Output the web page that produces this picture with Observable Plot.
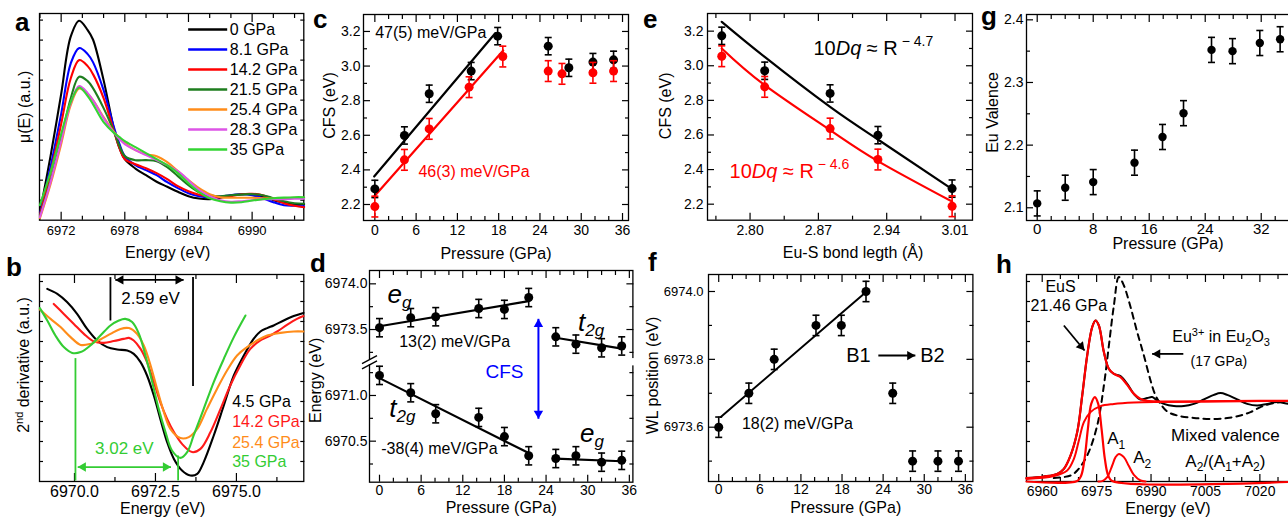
<!DOCTYPE html>
<html><head><meta charset="utf-8">
<script src="https://cdn.jsdelivr.net/npm/d3@7"></script>
<script src="https://cdn.jsdelivr.net/npm/@observablehq/plot@0.6"></script>
<style>
html,body{margin:0;padding:0;background:#fff;}
#fig{position:relative;width:1288px;height:518px;overflow:hidden;font-family:"Liberation Sans",Arial,Helvetica,sans-serif;background:#fff;}
.lbl{position:absolute;font-weight:bold;font-size:26px;line-height:26px;color:#000;}
</style></head><body><div id="fig"></div>
<script>
const FONT = '"Liberation Sans", Arial, Helvetica, sans-serif';
const RED = "#ff0000", BLUE = "#0000ff", LGREEN = "#33cc33";

// ================= DATA =================
// --- a: XANES mu(E) ---
const aEnergy = [6970, 6971, 6972, 6972.9, 6973.7, 6974.5, 6975, 6976, 6977, 6977.5, 6978, 6979, 6980, 6981, 6982, 6983, 6984, 6985, 6986, 6987, 6988, 6989, 6990, 6991, 6992, 6993, 6994, 6994.9];
const aMu0   = [0.4, 3.2, 6.3, 9.17, 9.97, 9.5, 9.03, 7.0, 4.5, 3.6, 3.05, 2.58, 2.25, 1.92, 1.67, 1.42, 1.2, 1.08, 1.05, 1.12, 1.25, 1.3, 1.3, 1.18, 1.0, 0.88, 0.8, 0.8];
const aMu8   = [0.3, 2.67, 5.3, 7.83, 8.6, 8.3, 7.9, 6.5, 4.6, 3.8, 3.2, 2.75, 2.5, 2.25, 1.9, 1.6, 1.35, 1.2, 1.15, 1.18, 1.25, 1.3, 1.25, 1.1, 0.9, 0.75, 0.72, 0.7];
const aMu14  = [0.25, 2.37, 4.8, 7.08, 8.0, 7.7, 7.3, 6.1, 4.4, 3.6, 3.05, 2.8, 2.6, 2.35, 2.05, 1.7, 1.45, 1.27, 1.18, 1.15, 1.2, 1.3, 1.32, 1.25, 1.05, 0.85, 0.72, 0.65];
const aMu21  = [0.2, 1.97, 4.05, 6.08, 7.17, 6.95, 6.6, 5.6, 4.4, 3.7, 3.2, 3.0, 3.0, 2.95, 2.65, 2.2, 1.75, 1.4, 1.25, 1.2, 1.25, 1.28, 1.3, 1.25, 1.1, 0.95, 0.85, 0.82];
const aMu25  = [0.1, 1.8, 3.8, 5.75, 6.58, 6.3, 6.0, 5.15, 4.4, 4.1, 3.85, 3.5, 3.3, 3.2, 2.9, 2.45, 2.0, 1.6, 1.3, 1.15, 1.12, 1.12, 1.12, 1.1, 1.08, 1.1, 1.12, 1.12];
const aMu28  = [0.15, 1.9, 3.95, 5.85, 6.7, 6.35, 6.0, 5.1, 4.35, 4.05, 3.8, 3.5, 3.25, 3.0, 2.75, 2.45, 2.0, 1.5, 1.2, 1.0, 0.92, 0.95, 1.0, 1.05, 1.05, 1.05, 1.07, 1.08];
const aMu35  = [0.75, 2.4, 4.3, 5.9, 6.63, 6.2, 5.8, 4.9, 4.35, 4.15, 3.95, 3.65, 3.35, 3.05, 2.75, 2.35, 1.85, 1.4, 1.1, 0.95, 0.88, 0.9, 0.98, 1.05, 1.1, 1.13, 1.15, 1.15];
const aLabels = ["0 GPa", "8.1 GPa", "14.2 GPa", "21.5 GPa", "25.4 GPa", "28.3 GPa", "35 GPa"];
const aXTicks = [6972, 6978, 6984, 6990];
const aXMinor = [6970, 6974, 6976, 6980, 6982, 6986, 6988, 6992, 6994];
const aYMinor = [1, 2, 3, 4, 5, 6, 7, 8, 9, 10];

// --- b: 2nd derivative ---
const bE45  = [6969.16, 6969.47, 6969.77, 6970.08, 6970.39, 6970.70, 6971.01, 6971.32, 6971.63, 6971.83, 6972.04, 6972.24, 6972.45, 6972.65, 6972.86, 6973.07, 6973.32, 6973.58, 6973.79, 6973.99, 6974.30, 6974.61, 6974.92, 6975.23, 6975.53, 6975.74, 6975.95, 6976.15, 6976.46, 6976.77, 6977.07];
const bD45  = [9.63, 9.38, 8.97, 8.38, 7.63, 7.05, 6.72, 6.6, 6.55, 6.38, 5.97, 5.3, 4.3, 3.13, 1.97, 1.13, 0.55, 0.3, 0.38, 0.97, 2.3, 3.8, 5.3, 6.3, 7.13, 7.5, 7.67, 7.8, 8.05, 8.27, 8.43];
const bE142 = [6969.36, 6969.67, 6969.98, 6970.29, 6970.60, 6970.91, 6971.21, 6971.52, 6971.68, 6971.83, 6972.04, 6972.24, 6972.45, 6972.65, 6972.86, 6973.07, 6973.32, 6973.63, 6973.89, 6974.20, 6974.51, 6974.81, 6975.12, 6975.43, 6975.74, 6975.95, 6976.26, 6976.56, 6976.87, 6977.07];
const bD142 = [8.88, 8.38, 7.88, 7.38, 7.0, 6.93, 7.02, 7.13, 7.18, 7.05, 6.63, 5.97, 4.97, 3.97, 3.13, 2.47, 1.88, 1.47, 1.63, 2.47, 3.63, 4.8, 5.8, 6.63, 7.05, 7.22, 7.5, 7.83, 8.13, 8.27];
const bE254 = [6968.93, 6969.26, 6969.57, 6969.88, 6970.19, 6970.49, 6970.80, 6971.11, 6971.42, 6971.68, 6971.93, 6972.14, 6972.35, 6972.55, 6972.76, 6972.96, 6973.27, 6973.53, 6973.79, 6974.09, 6974.40, 6974.71, 6975.02, 6975.33, 6975.64, 6975.95, 6976.36, 6976.77, 6977.07];
const bD254 = [8.6, 8.13, 7.72, 7.22, 6.83, 6.88, 7.1, 7.38, 7.63, 7.67, 7.38, 6.8, 5.8, 4.63, 3.47, 2.63, 2.17, 2.22, 2.63, 3.63, 4.63, 5.55, 6.3, 6.72, 7.05, 7.3, 7.43, 7.5, 7.5];
const bE35  = [6968.93, 6969.16, 6969.41, 6969.67, 6969.93, 6970.19, 6970.49, 6970.80, 6971.11, 6971.37, 6971.57, 6971.78, 6971.99, 6972.19, 6972.40, 6972.60, 6972.81, 6973.01, 6973.27, 6973.48, 6973.68, 6973.99, 6974.30, 6974.61, 6974.92, 6975.28];
const bD35  = [8.67, 8.05, 7.3, 6.72, 6.43, 6.47, 6.8, 7.3, 7.8, 8.05, 8.13, 7.97, 7.38, 6.3, 4.97, 3.63, 2.47, 1.55, 1.18, 1.47, 2.3, 3.63, 4.97, 6.13, 7.22, 8.3];
const bLabels = ["4.5 GPa", "14.2 GPa", "25.4 GPa", "35 GPa"];
const bXTicks = [6970.0, 6972.5, 6975.0];
const bXMinor = [6971.25, 6973.75, 6976.25];
const bYMinor = [1, 2, 3, 4, 5, 6, 7, 8, 9, 10];

// --- c: CFS vs pressure ---
const cPressBlack = [0, 4.3, 7.9, 14.0, 17.85, 25.2, 28.2, 31.7, 34.7];
const cCfsBlack   = [2.29, 2.599, 2.84, 2.971, 3.173, 3.115, 2.99, 3.023, 3.036];
const cPressRed   = [0, 4.3, 7.9, 13.7, 18.6, 25.2, 27.2, 31.7, 34.7];
const cCfsRed     = [2.188, 2.458, 2.637, 2.878, 3.055, 2.971, 2.955, 2.961, 2.971];
const cFitBlackP = [-0.1, 17.5], cFitBlackV = [2.362, 3.19];
const cFitRedP   = [-0.2, 18.66], cFitRedV   = [2.242, 3.09];
const pTicks = [0, 6, 12, 18, 24, 30, 36];
const pMinor = [2, 4, 8, 10, 14, 16, 20, 22, 26, 28, 32, 34];
const cfsTicks = [2.2, 2.4, 2.6, 2.8, 3.0, 3.2];
const cfsMinor = [2.3, 2.5, 2.7, 2.9, 3.1];

// --- d: eg / t2g energies (broken axis) ---
const dPressB1 = [0, 4.5, 8.1, 14.3, 18.0, 21.5];
const dEgB1    = [6973.52, 6973.63, 6973.64, 6973.73, 6973.72, 6973.85];
const dT2gB1   = [6971.22, 6971.03, 6970.80, 6970.76, 6970.55, 6970.34];
const dPressB2 = [25.4, 28.3, 32.0, 34.9];
const dT2gB2   = [6973.42, 6973.34, 6973.30, 6973.32];
const dEgB2    = [6970.31, 6970.34, 6970.27, 6970.29];
const dFitEgB1P = [0, 21.5],  dFitEgB1V = [6973.536, 6973.81];
const dFitT2B1P = [0, 21.5],  dFitT2B1V = [6971.19, 6970.37];
const dFitT2B2P = [25.4, 34.9], dFitT2B2V = [6973.41, 6973.29];
const dFitEgB2P = [25.4, 34.9], dFitEgB2V = [6970.31, 6970.28];
const dYTickLabels = [6970.5, 6971.0, 6973.5, 6974.0];
const dYMinor = [6970.25, 6970.75, 6971.25, 6973.25, 6973.75];

// --- e: CFS vs bond length ---
const eBond = [2.771, 2.815, 2.882, 2.931, 3.007];
const eCfsBlack = [3.173, 2.971, 2.84, 2.599, 2.29];
const eCfsRed   = [3.055, 2.878, 2.637, 2.458, 2.188];
const eFitBlackR = [2.771, 2.815, 2.882, 2.931, 3.007], eFitBlackV = [3.254, 3.051, 2.762, 2.574, 2.287];
const eFitRedR   = [2.771, 2.815, 2.882, 2.931, 3.007], eFitRedV   = [3.10, 2.888, 2.628, 2.449, 2.215];
const eXTicks = [2.80, 2.87, 2.94, 3.01];
const eXMinor = [2.765, 2.835, 2.905, 2.975];

// --- f: WL position ---
const fPress = [0, 4.4, 8.1, 14.2, 17.9, 21.5, 25.4, 28.3, 32.0, 35.0];
const fWL    = [6973.60, 6973.70, 6973.80, 6973.90, 6973.90, 6974.00, 6973.70, 6973.50, 6973.50, 6973.50];
const fFitP = [0.3, 21.0], fFitV = [6973.63, 6973.99];
const fYTicks = [6973.6, 6973.8, 6974.0];
const fYMinor = [6973.5, 6973.7, 6973.9];

// --- g: Eu valence ---
const gPress = [0, 4.0, 8.0, 13.9, 17.9, 20.9, 24.9, 27.9, 31.8, 34.7];
const gVal   = [2.107, 2.132, 2.141, 2.172, 2.213, 2.251, 2.352, 2.350, 2.363, 2.369];
const gXTicks = [0, 8, 16, 24, 32];
const gXMinor = [2, 4, 6, 10, 12, 14, 18, 20, 22, 26, 28, 30, 34, 36];
const gYTicks = [2.1, 2.2, 2.3, 2.4];
const gYMinor = [2.15, 2.25, 2.35];

// --- h: XANES fit ---
const hE_EuS  = [6955.68, 6960.46, 6964.13, 6965.97, 6967.81, 6969.65, 6971.03, 6972.40, 6973.78, 6974.70, 6975.62, 6977.0, 6978.38, 6979.76, 6981.59, 6983.43, 6985.27, 6987.11, 6988.94, 6990.32, 6991.70, 6993.54, 6996.30, 6999.05, 7001.81, 7004.57, 7007.32, 7009.16, 7011.0, 7013.75, 7016.51, 7019.27, 7022.02, 7024.78, 7027.9, 7031];
const hMu_EuS = [0.17, 0.25, 0.38, 0.63, 1.3, 2.47, 4.3, 6.3, 7.72, 8.05, 7.8, 6.47, 5.63, 5.38, 5.27, 4.88, 4.38, 4.1, 4.17, 4.22, 4.05, 3.88, 3.77, 3.77, 3.88, 4.1, 4.33, 4.42, 4.33, 4.1, 3.88, 3.8, 3.88, 3.97, 3.88, 3.85];
const hE_fit  = [6955.68, 6960.46, 6964.13, 6965.97, 6967.81, 6969.65, 6971.03, 6972.40, 6973.78, 6974.70, 6975.62, 6977.0, 6978.38, 6979.76, 6981.59, 6983.43, 6985.27, 6987.11, 6988.94, 6992.62, 7001.81, 7011.0, 7031];
const hMu_fit = [0.17, 0.25, 0.38, 0.63, 1.3, 2.47, 4.3, 6.3, 7.72, 8.05, 7.8, 6.47, 5.63, 5.38, 5.22, 4.83, 4.38, 4.13, 4.03, 4.0, 4.0, 4.02, 4.04];
const hE_step  = [6955.68, 6963.22, 6966.89, 6968.73, 6970.11, 6971.49, 6973.32, 6976.08, 6979.76, 6985.27, 6992.62, 7027.9, 7031];
const hMu_step = [0.13, 0.27, 0.55, 1.13, 2.05, 2.97, 3.47, 3.77, 3.88, 3.95, 3.98, 4.03, 4.04];
const hE_A1  = [6955.68, 6969.65, 6970.75, 6971.67, 6972.59, 6973.51, 6974.52, 6975.44, 6976.36, 6977.27, 6978.19, 6979.3, 7031];
const hMu_A1 = [0, 0.03, 0.3, 1.13, 2.63, 3.88, 4.22, 3.88, 2.63, 1.13, 0.3, 0.03, 0];
const hE_A2  = [6975.5, 6976.54, 6977.92, 6979.3, 6980.22, 6981.13, 6982.51, 6983.89, 6985.27, 6987.11, 6988.5];
const hMu_A2 = [0, 0.02, 0.22, 0.8, 1.22, 1.38, 1.22, 0.77, 0.33, 0.05, 0];
const hE_O3  = [6963.2, 6967.81, 6969.65, 6972.4, 6975.16, 6977.0, 6978.38, 6979.76, 6981.13, 6982.51, 6984.35, 6986.19, 6988.03, 6989.86, 6991.24, 6992.62, 6994.46, 6997.21, 7001.81, 7006.4, 7011.0, 7014.67, 7017.43, 7020.19, 7022.94, 7025.7, 7031];
const hMu_O3 = [0.17, 0.3, 0.55, 1.3, 2.8, 4.8, 6.8, 8.8, 10.22, 9.8, 8.72, 7.47, 6.3, 5.05, 4.3, 3.88, 3.5, 3.3, 3.18, 3.13, 3.17, 3.3, 3.47, 3.72, 3.88, 3.97, 3.97];
const hXTicks = [6960, 6975, 6990, 7005, 7020];
const hXMinor = [6965, 6970, 6980, 6985, 6995, 7000, 7010, 7015, 7025, 7030];
const hYMinor = [1, 2, 3, 4, 5, 6, 7, 8, 9, 10];

// ================= HELPERS =================
const fig = document.getElementById("fig");
const zip = (xs, ys, extra = {}) => xs.map((x, i) => ({x, y: ys[i], ...extra}));
const cap = {draw(ctx, size) { const r = Math.sqrt(size / Math.PI); ctx.moveTo(-r, 0); ctx.lineTo(r, 0); }};

function panel({box, x, y, color, marks, rich}) {
  const [x0, y0, x1, y1] = box, M = 40;
  const svg = Plot.plot({
    width: x1 - x0 + 2 * M, height: y1 - y0 + 2 * M,
    marginTop: M, marginRight: M, marginBottom: M, marginLeft: M,
    x, y, color,
    style: {fontFamily: FONT, fontSize: "14px", background: "transparent", overflow: "visible", maxWidth: "none", color: "black"},
    marks
  });
  svg.style.position = "absolute";
  svg.style.left = (x0 - M) + "px";
  svg.style.top = (y0 - M) + "px";
  if (rich) svg.querySelectorAll("text").forEach(t => { const k = t.textContent; if (rich[k]) t.innerHTML = rich[k]; });
  fig.appendChild(svg);
  return svg;
}

function frameAxes({xMajor = [], xMinor = [], yMajor = [], yMinor = [], xFmt = d => String(d), yFmt = d => String(d), xFont = 14, yFont = 14, xPad = 4, yPad = 3, xLab = true, yLab = true, maj = 7, min = 4}) {
  const m = [Plot.frame({stroke: "black", strokeWidth: 1.3})];
  const sw = 1.2;
  for (const anchor of ["bottom", "top"]) {
    if (xMajor.length) m.push(Plot.axisX(xMajor, {anchor, tickSize: -maj, fill: "none", label: null, strokeWidth: sw}));
    if (xMinor.length) m.push(Plot.axisX(xMinor, {anchor, tickSize: -min, fill: "none", label: null, strokeWidth: sw}));
  }
  for (const anchor of ["left", "right"]) {
    if (yMajor.length) m.push(Plot.axisY(yMajor, {anchor, tickSize: -maj, fill: "none", label: null, strokeWidth: sw}));
    if (yMinor.length) m.push(Plot.axisY(yMinor, {anchor, tickSize: -min, fill: "none", label: null, strokeWidth: sw}));
  }
  if (xLab && xMajor.length) m.push(Plot.axisX(xMajor, {anchor: "bottom", tickSize: 0, tickPadding: xPad, tickFormat: xFmt, fontSize: xFont, label: null}));
  if (yLab && yMajor.length) m.push(Plot.axisY(yMajor, {anchor: "left", tickSize: 0, tickPadding: yPad, tickFormat: yFmt, fontSize: yFont, label: null}));
  return m;
}
const xTitle = (t, dy, dx = 0, fs = 16) => Plot.text([t], {text: d => d, frameAnchor: "bottom", textAnchor: "middle", lineAnchor: "middle", dy, dx, fontSize: fs});
const yTitle = (t, dx, dy = 0, fs = 16) => Plot.text([t], {text: d => d, frameAnchor: "left", textAnchor: "middle", lineAnchor: "middle", dx, dy, rotate: -90, fontSize: fs});

function errorBars(data, {err, color = "black", r = 4.5, capR = 3.5, sw = 1.6}) {
  return [
    Plot.ruleX(data, {x: "x", y1: d => d.y - err, y2: d => d.y + err, stroke: color, strokeWidth: sw}),
    Plot.dot(data, {x: "x", y: d => d.y - err, symbol: cap, r: capR, stroke: color, fill: "none", strokeWidth: sw}),
    Plot.dot(data, {x: "x", y: d => d.y + err, symbol: cap, r: capR, stroke: color, fill: "none", strokeWidth: sw}),
    Plot.dot(data, {x: "x", y: "y", r, fill: color, stroke: "none"})
  ];
}
// arrow: line with filled triangular head(s)
function arrow(a, {color = "black", sw = 1.6, both = false, rot, hr = 3.5}) {
  const ang = rot ?? 90;
  const t = 5.4 * Math.sqrt(hr / 3.5);
  const rad = ang * Math.PI / 180, ux = Math.sin(rad), uy = -Math.cos(rad);
  const m = [Plot.link([a], {x1: "x1", y1: "y1", x2: "x2", y2: "y2", stroke: color, strokeWidth: sw})];
  m.push(Plot.dot([a], {x: "x2", y: "y2", symbol: "triangle", r: hr, rotate: ang, fill: color, stroke: "none", dx: -ux * t, dy: -uy * t}));
  if (both) m.push(Plot.dot([a], {x: "x1", y: "y1", symbol: "triangle", r: hr, rotate: ang + 180, fill: color, stroke: "none", dx: ux * t, dy: uy * t}));
  return m;
}
function note(items, opts) { return Plot.text(items, {x: "x", y: "y", text: "t", ...opts}); }

// ================= PANEL a =================
const aMus = [aMu0, aMu8, aMu14, aMu21, aMu25, aMu28, aMu35];
const aTable = aLabels.flatMap((s, i) => aEnergy.map((e, j) => ({e, mu: aMus[i][j], s})));
const aLeg = aLabels.map((s, i) => ({s, y: 9.53 - i * 1.0}));
panel({
  box: [39, 13.3, 303.3, 220],
  x: {domain: [6969.96, 6994.87]}, y: {domain: [0, 10.33]},
  color: {domain: aLabels, range: ["#000000", "#0000ff", "#ff0000", "#1e7d1e", "#ff8c1a", "#dd55e6", "#33d433"]},
  marks: [
    ...frameAxes({xMajor: aXTicks, xMinor: aXMinor, yMinor: aYMinor, xFont: 13, xPad: 6, maj: 8}),
    Plot.line(aTable, {x: "e", y: "mu", z: "s", stroke: "s", strokeWidth: 2.1, curve: "catmull-rom"}),
    Plot.link(aLeg, {x1: () => 6983.97, x2: () => 6987.65, y1: "y", y2: "y", stroke: "s", strokeWidth: 2.4}),
    Plot.text(aLeg, {x: () => 6987.9, y: "y", text: "s", textAnchor: "start", fontSize: 16}),
    xTitle("Energy (eV)", 33, -4),
    yTitle("μ(E) (a.u.)", -15, -10)
  ]
});

// ================= PANEL b =================
const bTable = [
  ...zip(bE45, bD45, {s: bLabels[0]}), ...zip(bE142, bD142, {s: bLabels[1]}),
  ...zip(bE254, bD254, {s: bLabels[2]}), ...zip(bE35, bD35, {s: bLabels[3]})
];
const bLegY = [3.97, 2.97, 1.92, 0.97];
panel({
  box: [39, 274, 303.3, 481],
  x: {domain: [6968.92, 6977.08]}, y: {domain: [0, 10.35]},
  color: {domain: bLabels, range: ["#000000", "#ff1a1a", "#ff8c1a", LGREEN]},
  marks: [
    ...frameAxes({xMajor: bXTicks, xMinor: bXMinor, yMinor: bYMinor, xFmt: d => d.toFixed(1), xFont: 16, xPad: 4, maj: 8}),
    Plot.line(bTable, {x: "x", y: "y", z: "s", stroke: "s", strokeWidth: 2.1, curve: "catmull-rom"}),
    Plot.link([{x1: 6971.11, y1: 10.22, x2: 6971.11, y2: 8.05}, {x1: 6973.66, y1: 10.22, x2: 6973.66, y2: 4.77}],
      {x1: "x1", y1: "y1", x2: "x2", y2: "y2", stroke: "black", strokeWidth: 1.8}),
    Plot.link([{x1: 6970.03, y1: 6.17, x2: 6970.03, y2: 0.05}, {x1: 6973.2, y1: 1.3, x2: 6973.2, y2: 0.05}],
      {x1: "x1", y1: "y1", x2: "x2", y2: "y2", stroke: LGREEN, strokeWidth: 1.8}),
    ...arrow({x1: 6971.26, y1: 10.08, x2: 6973.37, y2: 10.08}, {color: "black", both: true, rot: 90}),
    ...arrow({x1: 6970.1, y1: 0.72, x2: 6972.98, y2: 0.72}, {color: LGREEN, both: true, rot: 90}),
    note([{x: 6972.35, y: 9.13, t: "2.59 eV"}], {fontSize: 17}),
    note([{x: 6971.54, y: 1.63, t: "3.02 eV"}], {fontSize: 17, fill: LGREEN}),
    Plot.text(bLabels, {x: () => 6974.87, y: (d, i) => bLegY[i], text: d => d, fill: d => d, textAnchor: "start", fontSize: 16}),
    xTitle("Energy (eV)", 27, -9),
    yTitle("2nd derivative (a.u.)", -16, -13)
  ],
  rich: {"2nd derivative (a.u.)": '2<tspan dy="-6" font-size="11">nd</tspan><tspan dy="6"> derivative (a.u.)</tspan>'}
});

// ================= PANEL c =================
panel({
  box: [363.3, 14, 628.3, 220],
  x: {domain: [-1.65, 36.87]}, y: {domain: [2.1075, 3.298]},
  marks: [
    ...frameAxes({xMajor: pTicks, xMinor: pMinor, yMajor: cfsTicks, yMinor: cfsMinor, yFmt: d => d.toFixed(1), xFont: 14, xPad: 5, yPad: 3}),
    Plot.line(zip(cFitBlackP, cFitBlackV), {x: "x", y: "y", stroke: "black", strokeWidth: 2.2}),
    Plot.line(zip(cFitRedP, cFitRedV), {x: "x", y: "y", stroke: RED, strokeWidth: 2.2}),
    ...errorBars(zip(cPressBlack, cCfsBlack), {err: 0.05, color: "black"}),
    ...errorBars(zip(cPressRed, cCfsRed), {err: 0.06, color: RED}),
    note([{x: 0.04, y: 3.19, t: "47(5) meV/GPa"}], {textAnchor: "start", fontSize: 16}),
    note([{x: 6.33, y: 2.387, t: "46(3) meV/GPa"}], {textAnchor: "start", fontSize: 16, fill: RED}),
    xTitle("Pressure (GPa)", 33, 0),
    yTitle("CFS (eV)", -34, -12)
  ]
});

// ================= PANEL d (broken axis) =================
const dBreak = 1.778;                       // energy removed by the axis break
const toV = e => (e > 6972 ? e - dBreak : e);
const vBreak = 6971.364;
const dYTicksV = dYTickLabels.map(toV);
const dXDom = [-1.44, 36.51];
panel({
  box: [369.3, 270, 632.7, 481.7],
  x: {domain: dXDom}, y: {domain: [6970.051, 6972.368]},
  marks: [
    ...frameAxes({xMajor: pTicks, xMinor: pMinor, yMajor: dYTicksV, yMinor: dYMinor.map(toV),
      yFmt: v => dYTickLabels[dYTicksV.indexOf(v)].toFixed(1), xFont: 14, xPad: 3, yPad: 2}),
    Plot.ruleX([dXDom[1]], {y1: vBreak - 0.04, y2: vBreak + 0.04, stroke: "white", strokeWidth: 5}),
    Plot.ruleX([dXDom[0]], {y1: vBreak - 0.026, y2: vBreak + 0.026, stroke: "white", strokeWidth: 5}),
    Plot.link([{o: -0.028}, {o: 0.028}], {x1: dXDom[0] - 1.08, x2: dXDom[0] + 1.08, y1: d => vBreak + d.o - 0.044, y2: d => vBreak + d.o + 0.044, stroke: "black", strokeWidth: 1.4}),
    Plot.line(zip(dFitEgB1P, dFitEgB1V.map(toV)), {x: "x", y: "y", stroke: "black", strokeWidth: 2.2}),
    Plot.line(zip(dFitT2B1P, dFitT2B1V.map(toV)), {x: "x", y: "y", stroke: "black", strokeWidth: 2.2}),
    Plot.line(zip(dFitT2B2P, dFitT2B2V.map(toV)), {x: "x", y: "y", stroke: "black", strokeWidth: 2.2}),
    Plot.line(zip(dFitEgB2P, dFitEgB2V.map(toV)), {x: "x", y: "y", stroke: "black", strokeWidth: 2.2}),
    ...errorBars(zip(dPressB1, dEgB1.map(toV)), {err: 0.1}),
    ...errorBars(zip(dPressB1, dT2gB1.map(toV)), {err: 0.1}),
    ...errorBars(zip(dPressB2, dT2gB2.map(toV)), {err: 0.1}),
    ...errorBars(zip(dPressB2, dEgB2.map(toV)), {err: 0.1}),
    ...arrow({x1: 22.9, y1: toV(6970.745), x2: 22.9, y2: toV(6973.617)}, {color: BLUE, both: true, rot: 0, sw: 2}),
    note([{x: 18.0, y: toV(6971.255), t: "CFS"}], {fontSize: 19, fill: BLUE}),
    note([{x: 1.15, y: toV(6973.88), t: "eg"}, {x: 28.9, y: toV(6970.58), t: "eg"},
          {x: 1.4, y: toV(6970.86), t: "t2g"}, {x: 28.6, y: toV(6973.58), t: "t2g"}], {textAnchor: "start", fontSize: 26}),
    note([{x: 2.84, y: toV(6973.36), t: "13(2) meV/GPa"}, {x: 0.25, y: toV(6970.417), t: "-38(4) meV/GPa"}], {textAnchor: "start", fontSize: 16}),
    xTitle("Pressure (GPa)", 26, 0),
    yTitle("Energy (eV)", -54, 4)
  ],
  rich: {
    "eg": '<tspan font-style="italic">e</tspan><tspan font-style="italic" font-size="17" dy="5">g</tspan>',
    "t2g": '<tspan font-style="italic">t</tspan><tspan font-style="italic" font-size="17" dy="5">2g</tspan>'
  }
});

// ================= PANEL e =================
panel({
  box: [707.3, 13.3, 972.3, 220],
  x: {domain: [2.7564, 3.0279]}, y: {domain: [2.1075, 3.302]},
  marks: [
    ...frameAxes({xMajor: eXTicks, xMinor: eXMinor, yMajor: cfsTicks, yMinor: cfsMinor, xFmt: d => d.toFixed(2), yFmt: d => d.toFixed(1), xPad: 5, yPad: 4}),
    Plot.line(zip(eFitBlackR, eFitBlackV), {x: "x", y: "y", stroke: "black", strokeWidth: 2.2, curve: "natural"}),
    Plot.line(zip(eFitRedR, eFitRedV), {x: "x", y: "y", stroke: RED, strokeWidth: 2.2, curve: "natural"}),
    ...errorBars(zip(eBond, eCfsBlack), {err: 0.05, color: "black"}),
    ...errorBars(zip(eBond, eCfsRed), {err: 0.06, color: RED}),
    note([{x: 2.865, y: 3.10, t: "10Dq ≈ R-4.7"}], {textAnchor: "start", fontSize: 20}),
    note([{x: 2.779, y: 2.387, t: "10Dq ≈ R-4.6"}], {textAnchor: "start", fontSize: 20, fill: RED}),
    xTitle("Eu-S bond legth (Å)", 33, 13),
    yTitle("CFS (eV)", -42, -11)
  ],
  rich: {
    "10Dq ≈ R-4.7": '10<tspan font-style="italic">Dq</tspan> ≈ R<tspan font-size="14" dy="-9"> − 4.7</tspan>',
    "10Dq ≈ R-4.6": '10<tspan font-style="italic">Dq</tspan> ≈ R<tspan font-size="14" dy="-9"> − 4.6</tspan>'
  }
});

// ================= PANEL f =================
panel({
  box: [708.3, 274, 972.7, 481],
  x: {domain: [-1.49, 37.1]}, y: {domain: [6973.44, 6974.0501]},
  marks: [
    ...frameAxes({xMajor: pTicks, xMinor: pMinor, yMajor: fYTicks, yMinor: fYMinor, yFmt: d => d.toFixed(1), xFont: 14, yFont: 13, xPad: 3, yPad: 5}),
    Plot.line(zip(fFitP, fFitV), {x: "x", y: "y", stroke: "black", strokeWidth: 2}),
    ...errorBars(zip(fPress, fWL), {err: 0.03}),
    note([{x: 3.39, y: 6973.61, t: "18(2) meV/GPa"}], {textAnchor: "start", fontSize: 16}),
    note([{x: 18.6, y: 6973.811, t: "B1"}, {x: 29.4, y: 6973.811, t: "B2"}], {textAnchor: "start", fontSize: 20}),
    ...arrow({x1: 23.3, y1: 6973.811, x2: 28.7, y2: 6973.811}, {color: "black", rot: 90, sw: 2}),
    xTitle("Pressure (GPa)", 26, 5),
    yTitle("WL position (eV)", -56, -2.5)
  ]
});

// ================= PANEL g =================
panel({
  box: [1026, 14, 1296, 220],
  x: {domain: [-1.53, 37.04]}, y: {domain: [2.0797, 2.4085]},
  marks: [
    ...frameAxes({xMajor: gXTicks, xMinor: gXMinor, yMajor: gYTicks, yMinor: gYMinor, yFmt: d => d.toFixed(1), xFont: 15, yFont: 14, xPad: 3, yPad: 3}),
    ...errorBars(zip(gPress, gVal), {err: 0.02, r: 4.2}),
    xTitle("Pressure (GPa)", 23, 6.5),
    yTitle("Eu Valence", -34, -5)
  ]
});

// ================= PANEL h =================
panel({
  box: [1026, 274, 1300, 481],
  x: {domain: [6955.67, 7031.2]}, y: {domain: [0, 10.35]},
  marks: [
    ...frameAxes({xMajor: hXTicks, xMinor: hXMinor, yMinor: hYMinor, xFont: 14, xPad: 5}),
    Plot.line(zip(hE_O3, hMu_O3), {x: "x", y: "y", stroke: "black", strokeWidth: 2, strokeDasharray: "6,5", curve: "catmull-rom"}),
    Plot.line(zip(hE_EuS, hMu_EuS), {x: "x", y: "y", stroke: "black", strokeWidth: 2, curve: "catmull-rom"}),
    Plot.line(zip(hE_step, hMu_step), {x: "x", y: "y", stroke: RED, strokeWidth: 2, curve: "catmull-rom"}),
    Plot.line(zip(hE_A1, hMu_A1), {x: "x", y: "y", stroke: RED, strokeWidth: 2.2, curve: "catmull-rom"}),
    Plot.line(zip(hE_A2, hMu_A2), {x: "x", y: "y", stroke: RED, strokeWidth: 2, curve: "catmull-rom"}),
    Plot.line(zip(hE_fit, hMu_fit), {x: "x", y: "y", stroke: RED, strokeWidth: 2.2, curve: "catmull-rom"}),
    note([{x: 6965.05, y: 9.72, t: "EuS"}, {x: 6967.35, y: 8.77, t: "21.46 GPa"}], {fontSize: 16}),
    ...arrow({x1: 6965.97, y1: 7.8, x2: 6971.67, y2: 6.55}, {color: "black", rot: 140, sw: 1.8}),
    note([{x: 6995.84, y: 7.22, t: "Eu3+ in Eu2O3"}], {textAnchor: "start", fontSize: 16}),
    note([{x: 7008.7, y: 6.0, t: "(17 GPa)"}], {fontSize: 14}),
    ...arrow({x1: 6998.9, y1: 6.38, x2: 6990.3, y2: 6.38}, {color: "black", rot: -90, sw: 1.8}),
    note([{x: 7010.5, y: 2.3, t: "Mixed valence"}, {x: 7010.5, y: 1.0, t: "A2/(A1+A2)"}], {fontSize: 17}),
    note([{x: 6977.9, y: 2.17, t: "A1"}, {x: 6985.1, y: 1.22, t: "A2"}], {textAnchor: "start", fontSize: 17}),
    xTitle("Energy (eV)", 27, 4.5)
  ],
  rich: {
    "Eu3+ in Eu2O3": 'Eu<tspan dy="-6" font-size="11">3+</tspan><tspan dy="6"> in Eu</tspan><tspan dy="4" font-size="11">2</tspan><tspan dy="-4">O</tspan><tspan dy="4" font-size="11">3</tspan>',
    "A1": 'A<tspan dy="5" font-size="12">1</tspan>',
    "A2": 'A<tspan dy="5" font-size="12">2</tspan>',
    "A2/(A1+A2)": 'A<tspan dy="4" font-size="12">2</tspan><tspan dy="-4">/(A</tspan><tspan dy="4" font-size="12">1</tspan><tspan dy="-4">+A</tspan><tspan dy="4" font-size="12">2</tspan><tspan dy="-4">)</tspan>'
  }
});

// ================= panel letters =================
const letters = [["a", 15, 31], ["b", 6, 276], ["c", 313, 28], ["d", 310, 272], ["e", 643, 28], ["f", 648, 271], ["g", 981, 25], ["h", 996, 273]];
for (const [t, x, base] of letters) {
  const d = document.createElement("div");
  d.className = "lbl"; d.textContent = t;
  d.style.left = x + "px"; d.style.top = (base - 22) + "px";
  fig.appendChild(d);
}
</script></body></html>
